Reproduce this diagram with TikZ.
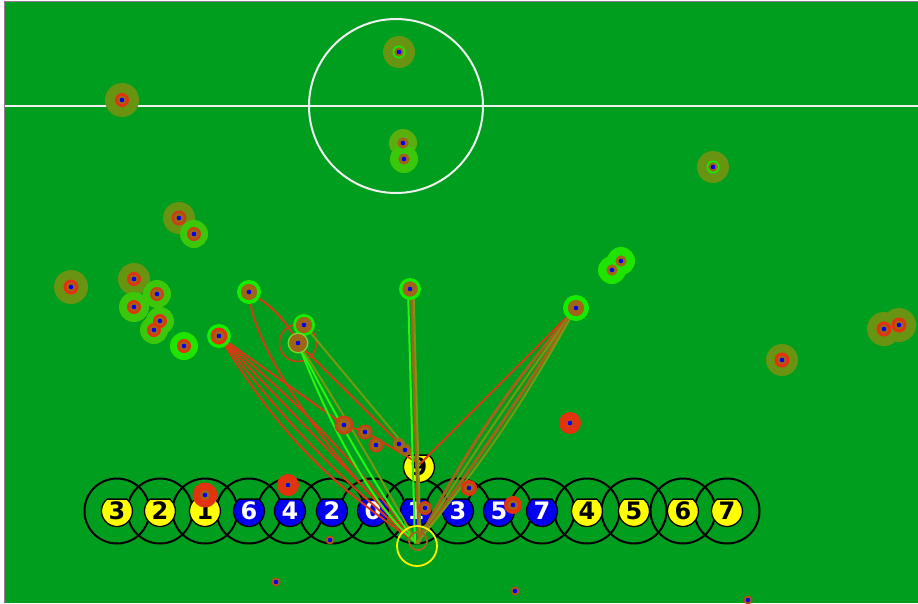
\documentclass[tikz,border=0pt]{standalone}
\usepackage{fontspec}
\newfontfamily\numfont{DejaVu Sans}
\usetikzlibrary{calc}
\pgfdeclarelayer{bg}
\pgfdeclarelayer{lines}
\pgfsetlayers{bg,lines,main}
\definecolor{field}{RGB}{0,158,30}
\definecolor{halo}{RGB}{105,148,18}
\definecolor{halomid}{RGB}{90,175,12}
\definecolor{halolt}{RGB}{60,200,10}
\definecolor{halobr}{RGB}{30,228,0}
\definecolor{halopale}{RGB}{120,215,50}
\definecolor{ringred}{RGB}{226,50,14}
\definecolor{core}{RGB}{160,100,22}
\definecolor{corered}{RGB}{200,64,20}
\definecolor{ringgr}{RGB}{20,236,0}
\definecolor{dotblue}{RGB}{0,0,240}
\definecolor{lnred}{RGB}{214,58,18}
\definecolor{lnolive}{RGB}{120,152,16}
\definecolor{lnbrown}{RGB}{162,100,26}
\definecolor{lngreen}{RGB}{40,245,20}
\definecolor{robyel}{RGB}{255,255,0}
\definecolor{robblu}{RGB}{0,0,238}
\definecolor{rimgrey}{RGB}{150,120,150}
\tikzset{
  robring/.style={draw=black, line width=2pt},
  robbody/.style={draw=black, line width=1.3pt},
  numlbl/.style={font=\numfont\bfseries\fontsize{24}{24}\selectfont, inner sep=0pt},
  lnr/.style={draw=lnred, line width=2pt, line cap=round},
  lno/.style={draw=lnolive, line width=2pt, line cap=round},
  lnb/.style={draw=lnbrown, line width=3pt, line cap=round},
  lng/.style={draw=lngreen, line width=2pt, line cap=round},
  fieldline/.style={draw=white!94!black, line width=2pt},
}
\newcommand\mkhalo[4]{\fill[#4] (#1,#2) circle (#3pt);}
\newcommand\mkpt[6]{%
  \fill[#4] (#2,#3) circle (#5pt);
  \fill[core] (#2,#3) circle (#6pt);
  \fill[dotblue] (#2,#3) circle (2.3pt);
  \coordinate (#1) at (#2,#3);}
\newcommand\mkrobot[6]{%
  \filldraw[robbody, fill=#4] (#2,#3) ++(130:15.5pt) arc[start angle=130, end angle=410, radius=15.5pt] -- cycle;
  \node[numlbl, text=#5] (#1) at (#2,#3) {#6};}
\begin{document}
\begin{tikzpicture}[x=1pt,y=-1pt]
\useasboundingbox (0,0) rectangle (918,603);
\begin{pgfonlayer}{bg}
\fill[white] (0,0) rectangle (918,603);
\fill[field] (5,2) rectangle (918,603);
\draw[rimgrey, line width=1.2pt] (4.6,603) -- (4.6,1.4) -- (918,1.4);
\draw[fieldline] (5,106) -- (918,106);
\coordinate (cc) at (396,106);
\draw[fieldline] (cc) circle (87pt);
% robot rings
\foreach \x in {117,160,205,249,290,332,373,416,458,499,542,587,634,683,727}
  \draw[robring] (\x,511) circle (32.5pt);
% robot bodies
\mkrobot{y3}{117}{511}{robyel}{black}{3}
\mkrobot{y2}{160}{511}{robyel}{black}{2}
\mkrobot{y1}{205}{511}{robyel}{black}{1}
\mkrobot{b6}{249}{511}{robblu}{white}{6}
\mkrobot{b4}{290}{511}{robblu}{white}{4}
\mkrobot{b2}{332}{511}{robblu}{white}{2}
\mkrobot{b0}{373}{511}{robblu}{white}{0}
\mkrobot{b1}{416}{511}{robblu}{white}{1}
\mkrobot{b3}{458}{511}{robblu}{white}{3}
\mkrobot{b5}{499}{511}{robblu}{white}{5}
\mkrobot{b7}{542}{511}{robblu}{white}{7}
\mkrobot{y4}{587}{511}{robyel}{black}{4}
\mkrobot{y5}{634}{511}{robyel}{black}{5}
\mkrobot{y6}{683}{511}{robyel}{black}{6}
\mkrobot{y7}{727}{511}{robyel}{black}{7}
\mkrobot{y9}{419}{467}{robyel}{black}{9}
\end{pgfonlayer}
% halos
\mkhalo{122}{100}{17}{halo}
\mkhalo{71}{287}{17}{halo}
\mkhalo{134}{279}{16}{halo}
\mkhalo{179}{218}{16}{halo}
\mkhalo{884}{329}{17}{halo}
\mkhalo{899}{325}{17}{halo}
\mkhalo{782}{360}{16}{halo}
\mkhalo{399}{52}{16}{halo}
\mkhalo{713}{167}{16}{halo}
\mkhalo{403}{143}{14}{halomid}
\mkhalo{404}{159}{14}{halolt}
\mkhalo{194}{234}{14}{halolt}
\mkhalo{157}{294}{14}{halolt}
\mkhalo{134}{307}{15}{halolt}
\mkhalo{160}{321}{14}{halolt}
\mkhalo{154}{330}{14}{halolt}
\mkhalo{184}{346}{14}{halobr}
\mkhalo{612}{270}{14}{halobr}
\mkhalo{621}{261}{14}{halobr}
% marker cores
\mkpt{m122}{122}{100}{ringred}{7}{4.5}
\mkpt{m71}{71}{287}{ringred}{7.5}{4.5}
\mkpt{m134a}{134}{279}{ringred}{7}{4.5}
\mkpt{m179}{179}{218}{corered}{7.5}{5}
\mkpt{m884}{884}{329}{ringred}{7.5}{4.5}
\mkpt{m899}{899}{325}{ringred}{7.5}{4.5}
\mkpt{m782}{782}{360}{ringred}{7.5}{4.5}
\mkpt{m399}{399}{52}{ringgr}{6.5}{4.8}
\mkpt{m713}{713}{167}{ringgr}{6.5}{4.8}
\mkpt{m403}{403}{143}{core}{5.5}{5.5}
\mkpt{m404}{404}{159}{core}{5.5}{5.5}
\mkpt{m194}{194}{234}{corered}{7}{5}
\mkpt{m157}{157}{294}{corered}{7}{5}
\mkpt{m134b}{134}{307}{ringred}{7}{4.5}
\mkpt{m160}{160}{321}{ringred}{7}{4.5}
\mkpt{m154}{154}{330}{ringred}{7}{4.5}
\mkpt{m184}{184}{346}{ringred}{7}{4.5}
\mkpt{m612}{612}{270}{core}{5.5}{5.5}
\mkpt{m621}{621}{261}{core}{5.5}{5.5}
% active markers with bright green ring
\fill[ringgr] (249,292) circle (12pt);
\mkpt{m249}{249}{292}{core}{8}{8}
\fill[ringgr] (219,336) circle (12pt);
\mkpt{m219}{219}{336}{ringred}{8.5}{5.5}
\fill[ringgr] (304,325) circle (11pt);
\mkpt{m304}{304}{325}{core}{8}{8}
\fill[ringgr] (410,289) circle (11pt);
\mkpt{m410}{410}{289}{core}{7.5}{7.5}
\fill[ringgr] (576,308) circle (13pt);
\mkpt{m576}{576}{308}{core}{8}{8}
\mkpt{m298}{298}{343}{halopale}{10.5}{9}
% small markers
\mkpt{s344}{344}{425}{corered}{9.5}{6.5}
\mkpt{s365}{365}{432}{corered}{7.5}{5.5}
\mkpt{s376}{376}{445}{corered}{7.5}{5.5}
\mkpt{s399}{399}{444}{lnbrown}{6}{5}
\mkpt{s405}{405}{450}{lnbrown}{6}{5}
\mkpt{s330}{330}{540}{corered}{4.5}{3.5}
\mkpt{s276}{276}{582}{corered}{4.5}{3.5}
\mkpt{s515}{515}{591}{corered}{4.5}{3.5}
\mkpt{s748}{748}{600}{corered}{4.5}{3.5}
% markers on robots
\mkpt{r205}{205}{495}{ringred}{12.5}{5}
\mkpt{r288}{288}{485}{ringred}{11}{3}
\mkpt{r570}{570}{423}{ringred}{11}{3}
\mkpt{r469}{469}{488}{ringred}{8}{5}
\mkpt{r513}{513}{505}{ringred}{9}{5}
\mkpt{r425}{425}{508}{corered}{7}{4.5}
\coordinate (P) at (417,543);
\coordinate (Q) at (420,464);
\coordinate (yc) at (417,546);
\coordinate (bc) at (418,541);
\begin{pgfonlayer}{lines}
\draw[lnr, line width=1.5pt] (m298) circle (18.5pt);
\foreach \b in {-12,-6,0,6} \draw[lnr] (m219) to[bend left=\b] (P);
\draw[lnr] (m219) -- (s344) -- (s365) -- (Q);
\draw[lnr] (m249) .. controls (250,340) and (320,450) .. (P);
\draw[lnr] (m249) to[bend left=15] (m298);
\draw[lng] (m298) .. controls (335,440) and (380,515) .. (P);
\draw[lng] (m298) .. controls (345,435) and (390,510) .. (P);
\draw[lno] (m298) .. controls (355,430) and (395,505) .. (P);
\draw[lnr] (m298) -- (Q);
\draw[lno] (m304) -- (Q);
\draw[lng] ($(m410)+(-2,0)$) -- ($(P)+(-2,0)$);
\draw[lnb] ($(m410)+(1.5,0)$) -- ($(P)+(2,0)$);
\draw[lno] ($(m410)+(3.5,0)$) -- ($(P)+(3.5,-2)$);
\draw[lnr] (m576) -- (Q);
\draw[lnb] (m576) to[bend left=-6] (P);
\draw[lno] (m576) to[bend left=-2] (P);
\draw[lnb] (m576) to[bend left=2] (P);
\draw[lno] (m576) to[bend left=5] (P);
\end{pgfonlayer}
\draw[yellow, line width=1.8pt] (yc) circle (20pt);
\draw[lnbrown, line width=1.8pt] (bc) circle (9pt);
\end{tikzpicture}
\end{document}
